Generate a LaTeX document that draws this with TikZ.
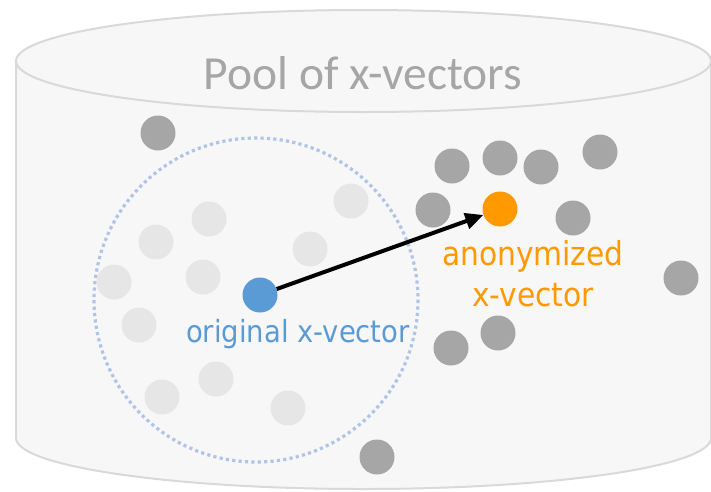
\documentclass[tikz,border=0pt]{standalone}
\usepackage{fontspec}
\setmainfont{Carlito}
\newfontfamily\labelfont{DejaVu Sans Condensed}
\usetikzlibrary{arrows.meta}
\definecolor{tankfill}{HTML}{F7F7F7}
\definecolor{tankline}{HTML}{D9D9D9}
\definecolor{darkdot}{HTML}{A6A6A6}
\definecolor{lightdot}{HTML}{E6E6E6}
\definecolor{origblue}{HTML}{5B9BD5}
\definecolor{anonorange}{HTML}{FF9900}
\definecolor{ringblue}{HTML}{B0C4E8}
\tikzset{
  pooldot/.style={circle, fill=darkdot, minimum size=35pt, inner sep=0pt},
  neardot/.style={circle, fill=lightdot, minimum size=35pt, inner sep=0pt},
  origdot/.style={circle, fill=origblue, minimum size=35pt, inner sep=0pt},
  anondot/.style={circle, fill=anonorange, minimum size=35pt, inner sep=0pt},
  tank/.style={fill=tankfill, draw=tankline, line width=2pt},
  ring/.style={draw=ringblue, line width=3.2pt, dash pattern=on 3.2pt off 3.2pt},
  vecarrow/.style={line width=4pt, -{Triangle[length=18pt,width=16pt]}},
  origtext/.style={text=origblue, font=\labelfont\fontsize{30.5}{30.5}\selectfont, anchor=base, inner sep=0pt},
  anontext/.style={text=anonorange, font=\labelfont\fontsize{33}{33}\selectfont, anchor=base, inner sep=0pt},
}
\begin{document}
\begin{tikzpicture}[x=1pt,y=-1pt]
\useasboundingbox (0,0) rectangle (711,491);
% cylinder body
\draw[tank] (16,61) -- (16,438) arc[start angle=180,end angle=0,x radius=347.5,y radius=51] -- (711,61);
% cylinder lid
\draw[tank] (363.5,61) ellipse[x radius=347.5,y radius=51];
\node[text=darkdot, font=\fontsize{47.5}{47.5}\selectfont, anchor=base, inner sep=0pt] (title) at (363,89) {Pool of x-vectors};
% neighbourhood ring
\draw[ring] (256,300) circle[radius=162];
% nearby x-vectors
\node[neardot] (n1) at (209,219) {};
\node[neardot] (n2) at (156,242) {};
\node[neardot] (n3) at (351,201) {};
\node[neardot] (n4) at (310,249) {};
\node[neardot] (n5) at (203,277) {};
\node[neardot] (n6) at (114,282) {};
\node[neardot] (n7) at (139,325) {};
\node[neardot] (n8) at (216,379) {};
\node[neardot] (n9) at (162,397) {};
\node[neardot] (n10) at (288,408) {};
% far x-vectors
\node[pooldot] (p1) at (158,133) {};
\node[pooldot] (p2) at (452,166) {};
\node[pooldot] (p3) at (500,158) {};
\node[pooldot] (p4) at (541,167) {};
\node[pooldot] (p5) at (600,152) {};
\node[pooldot] (p6) at (433,210) {};
\node[pooldot] (p7) at (573,218) {};
\node[pooldot] (p8) at (681,278) {};
\node[pooldot] (p9) at (498,333) {};
\node[pooldot] (p10) at (451,348) {};
\node[pooldot] (p11) at (377,457) {};
% original and anonymized vectors
\node[origdot] (orig) at (260,295) {};
\node[anondot] (anon) at (500,209) {};
\draw[vecarrow] (orig) -- (anon);
\node[origtext] (origlabel) at (298,342) {original x-vector};
\node[anontext] (anonlabel) at (533,265) {anonymized};
\node[anontext] (anonlabel2) at (533,306) {x-vector};
\end{tikzpicture}
\end{document}
